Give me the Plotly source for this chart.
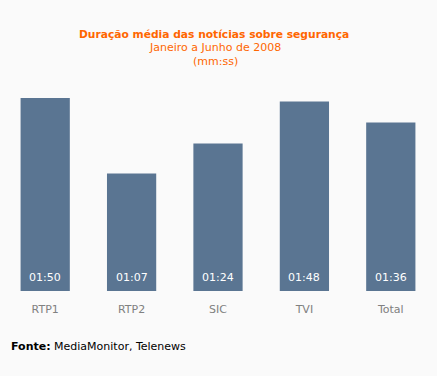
import plotly.graph_objects as go

categories = ["RTP1", "RTP2", "SIC", "TVI", "Total"]
seconds = [110, 67, 84, 108, 96]
labels = ["01:50", "01:07", "01:24", "01:48", "01:36"]

bar_color = "rgb(90,117,146)"
bg = "#FAFAFA"
orange = "#FF6600"
font_family = "DejaVu Sans, Verdana, sans-serif"

W, H = 437, 376
ML, MR, MT, MB = 2, 3, 98, 85
PW, PH = W - ML - MR, H - MT - MB

def px(xpix):
    return (xpix - ML) / PW

def py(ypix):
    return (H - MB - ypix) / PH

fig = go.Figure()
fig.add_trace(go.Bar(x=categories, y=seconds, marker=dict(color=bar_color, line=dict(width=0)),
                     hoverinfo="skip"))

for c, lab in zip(categories, labels):
    fig.add_annotation(x=c, y=0, xref="x", yref="y", text=lab, showarrow=False,
                       yanchor="bottom", yshift=5,
                       font=dict(family=font_family, size=11, color="white"))

fig.add_annotation(x=px(214), y=py(35), xref="paper", yref="paper",
                   text="<b>Duração média das notícias sobre segurança</b>",
                   showarrow=False, yanchor="middle", xanchor="center",
                   font=dict(family=font_family, size=10.7, color=orange))
fig.add_annotation(x=px(215), y=py(48), xref="paper", yref="paper", text="Janeiro a Junho de 2008",
                   showarrow=False, yanchor="middle", xanchor="center",
                   font=dict(family=font_family, size=11, color=orange))
fig.add_annotation(x=px(215), y=py(61), xref="paper", yref="paper", text="(mm:ss)",
                   showarrow=False, yanchor="middle", xanchor="center",
                   font=dict(family=font_family, size=11, color=orange))
fig.add_annotation(x=px(9), y=py(346), xref="paper", yref="paper",
                   text="<b>Fonte:</b> MediaMonitor, Telenews",
                   showarrow=False, yanchor="middle", xanchor="left",
                   font=dict(family=font_family, size=11, color="black"))

fig.update_layout(
    width=W, height=H,
    paper_bgcolor=bg, plot_bgcolor=bg,
    margin=dict(l=ML, r=MR, t=MT, b=MB),
    bargap=0.43,
    showlegend=False,
    hovermode=False,
    xaxis=dict(showgrid=False, zeroline=False, showline=False,
               ticks="outside", ticklen=8, tickcolor=bg,
               tickfont=dict(family=font_family, size=11, color="#808080")),
    yaxis=dict(range=[0, 110], visible=False, showgrid=False, zeroline=False),
)

fig.write_html("out.html", config={"displayModeBar": False, "staticPlot": True},
               post_script="document.body.style.margin='0';document.body.style.background='#FAFAFA';")
